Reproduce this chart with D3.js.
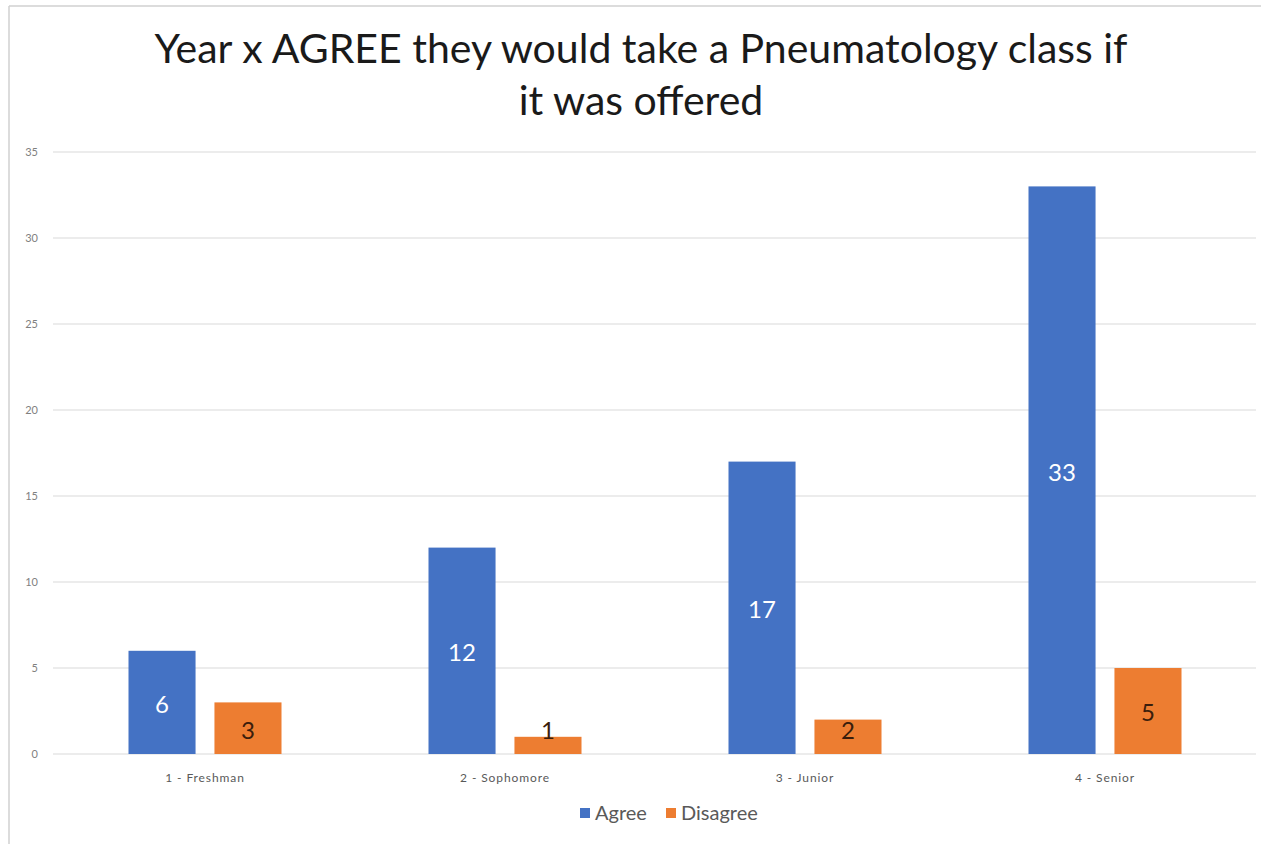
<!DOCTYPE html>
<html><head><meta charset="utf-8">
<script src="https://cdn.jsdelivr.net/npm/d3@7"></script>
<style>body{margin:0;background:#fff}svg{display:block}</style>
</head><body>
<svg id="c" width="1261" height="844"></svg>
<script>
const categories = ["1 - Freshman", "2 - Sophomore", "3 - Junior", "4 - Senior"];
const seriesNames = ["Agree", "Disagree"];
const agree = [6, 12, 17, 33];
const disagree = [3, 1, 2, 5];
const yTicks = [0, 5, 10, 15, 20, 25, 30, 35];
const titleLines = ["Year x AGREE they would take a Pneumatology class if", "it was offered"];
const colors = ["#4472C4", "#ED7D31"];
const labelColors = ["#ffffff", "#3b1d0c"];

const svg = d3.select("#c");
const font = "Lato, 'Open Sans', sans-serif";

// frame
svg.append("line").attr("x1", 9).attr("x2", 9).attr("y1", 6).attr("y2", 844).attr("stroke", "#d0d0d0").attr("stroke-width", 1.5);
svg.append("line").attr("x1", 9).attr("x2", 1261).attr("y1", 6).attr("y2", 6).attr("stroke", "#d0d0d0").attr("stroke-width", 1.5);

const x0 = d3.scaleBand().domain(categories).range([55, 1255]).paddingInner(0.49).paddingOuter(0.245);
const x1 = d3.scaleBand().domain(seriesNames).range([0, x0.bandwidth()]).paddingInner(0.22);
const y = d3.scaleLinear().domain([0, 35]).range([754, 152]);

// gridlines
svg.append("g").selectAll("line").data(yTicks).join("line")
  .attr("x1", 53).attr("x2", 1256)
  .attr("y1", d => y(d)).attr("y2", d => y(d))
  .attr("stroke", "#d9d9d9").attr("stroke-width", 1.2);

// y axis labels
const yAxis = d3.axisLeft(y).tickValues(yTicks).tickSize(0).tickPadding(0);
const gy = svg.append("g").attr("transform", "translate(38,0)").call(yAxis);
gy.select(".domain").remove();
gy.selectAll("text").attr("font-family", font).attr("font-size", 11).attr("fill", "#7f7f7f");

// x axis labels
const xAxis = d3.axisBottom(x0).tickSize(0).tickPadding(0);
const gx = svg.append("g").attr("transform", "translate(0,773)").call(xAxis);
gx.select(".domain").remove();
gx.selectAll("text").attr("font-family", font).attr("font-size", 12).attr("fill", "#595959").attr("letter-spacing", 0.9);

const data = categories.map((c, i) => ({cat: c, vals: [{s: "Agree", v: agree[i], k: 0}, {s: "Disagree", v: disagree[i], k: 1}]}));

const groups = svg.append("g").selectAll("g").data(data).join("g")
  .attr("transform", d => `translate(${x0(d.cat)},0)`);
groups.selectAll("rect").data(d => d.vals).join("rect")
  .attr("x", d => x1(d.s)).attr("width", x1.bandwidth())
  .attr("y", d => y(d.v)).attr("height", d => y(0) - y(d.v))
  .attr("fill", d => colors[d.k]);
groups.selectAll("text").data(d => d.vals).join("text")
  .attr("x", d => x1(d.s) + x1.bandwidth() / 2)
  .attr("y", d => Math.min((y(d.v) + y(0)) / 2 + 2, y(0) - 23))
  .attr("dy", "0.35em")
  .attr("text-anchor", "middle")
  .attr("font-family", font).attr("font-size", 24)
  .attr("fill", d => labelColors[d.k])
  .text(d => d.v);

// title
const title = svg.append("g");
titleLines.forEach((t, i) => {
  title.append("text").attr("x", 641).attr("y", 63 + i * 52)
    .attr("text-anchor", "middle").attr("font-family", font).attr("font-size", 41)
    .attr("fill", "#1a1a1a").text(t);
});

// legend
const legend = svg.append("g");
const lx = [580, 666];
seriesNames.forEach((s, i) => {
  legend.append("rect").attr("x", lx[i]).attr("y", 808).attr("width", 10).attr("height", 10).attr("fill", colors[i]);
  legend.append("text").attr("x", lx[i] + 15).attr("y", 813).attr("dy", "0.35em")
    .attr("font-family", font).attr("font-size", 20).attr("fill", "#595959").text(s);
});
</script>
</body></html>
